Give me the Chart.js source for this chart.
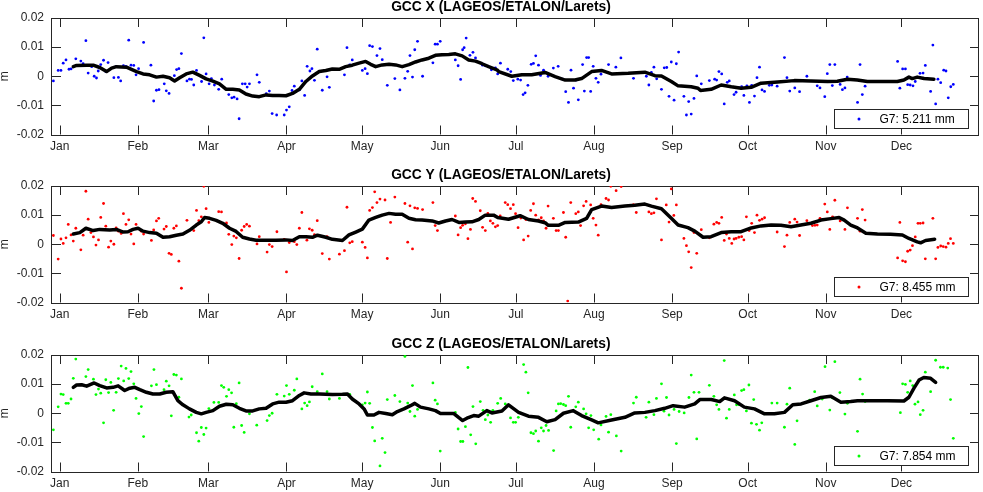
<!DOCTYPE html>
<html lang="en">
<head>
  <meta charset="UTF-8">
  <title>GCC LAGEOS/ETALON/Larets</title>
  <script src="https://cdn.jsdelivr.net/npm/chart.js"></script>
  <style>
    body {
      margin: 0;
      background: #fff;
      width: 983px;
      height: 492px;
      overflow: hidden;
      position: relative;
    }

    canvas {
      position: absolute;
      left: 0;
    }
  </style>
</head>
<body>

  <canvas id="gccX" width="983" height="160" style="top:0px"></canvas>
  <canvas id="gccY" width="983" height="160" style="top:168px"></canvas>
  <canvas id="gccZ" width="983" height="160" style="top:337px"></canvas>

  <script>
    // x axis: day of year (Jan 1 = 0)
    const monthDays = [0, 31, 59, 90, 120, 151, 181, 212, 243, 273, 304, 334];
    const monthNames = ['Jan', 'Feb', 'Mar', 'Apr', 'May', 'Jun', 'Jul', 'Aug', 'Sep', 'Oct', 'Nov', 'Dec'];
    const dayMin = -3.05;
    const dayMax = 364.8;
    const yTicks = [-0.02, -0.01, 0, 0.01, 0.02];

    // [day, mm]
    const gccXDots = [[-2.5,-1.6],[-0.6,2.0],[0.5,2.0],[1.4,4.5],[2.5,5.6],[3.7,2.4],[4.5,2.5],[6.4,6.0],[8.4,5.2],[9.3,4.3],[10.4,12.2],[11.3,1.1],[12.7,3.3],[13.7,0.0],[14.6,-0.6],[15.3,1.8],[16.3,4.0],[17.4,5.5],[18.3,1.6],[19.2,4.7],[21.5,-0.5],[22.3,3.3],[23.3,-0.4],[24.2,-1.6],[25.3,3.6],[26.3,3.4],[27.4,12.4],[28.3,3.8],[29.4,3.7],[30.3,0.5],[31.3,2.6],[33.3,11.6],[36.2,3.8],[37.3,-8.5],[38.4,-4.8],[39.4,-4.6],[41.5,-2.6],[42.3,-5.0],[43.4,-5.9],[45.5,0.2],[46.4,2.3],[47.3,2.6],[48.3,7.8],[50.5,-1.6],[51.5,-1.0],[52.3,-1.1],[53.2,-3.0],[54.3,2.0],[56.3,-1.8],[57.2,13.2],[58.1,0.8],[59.3,-2.6],[60.2,-0.8],[61.4,-3.0],[63.1,-4.5],[64.3,-1.0],[67.1,-6.3],[68.3,-7.4],[69.2,-7.2],[70.4,-7.8],[71.2,-14.6],[72.5,-2.6],[73.6,-2.6],[74.4,-3.7],[75.3,-2.6],[78.3,0.5],[79.2,-2.1],[82.0,-6.0],[83.2,-5.1],[84.3,-12.8],[86.1,-13.3],[89.1,-13.3],[90.0,-11.6],[91.1,-10.5],[92.2,-4.9],[93.1,-3.4],[95.1,-4.7],[96.1,-1.6],[97.2,-6.6],[98.2,3.4],[99.3,1.8],[100.1,2.6],[101.1,-1.4],[102.2,9.3],[104.2,-4.8],[106.1,-0.2],[107.0,-3.8],[113.0,0.5],[114.0,9.8],[115.1,3.9],[116.1,5.6],[120.1,2.0],[121.2,2.6],[122.1,0.9],[123.0,10.5],[124.1,10.2],[125.9,7.1],[127.1,9.5],[128.0,5.7],[130.0,-3.1],[133.0,-0.8],[135.0,-4.7],[137.0,-0.7],[138.1,1.7],[139.0,7.1],[140.0,-0.3],[140.9,9.1],[142.0,12.0],[144.0,0.0],[148.1,4.6],[149.0,11.0],[149.9,11.0],[151.0,12.0],[157.0,5.6],[158.1,3.6],[159.1,-1.1],[159.9,9.1],[160.5,9.8],[161.3,13.1],[162.8,7.2],[164.0,8.2],[165.0,6.3],[167.8,3.8],[168.9,3.6],[170.2,3.3],[171.3,2.2],[172.9,2.9],[173.8,0.8],[174.9,4.5],[177.8,2.4],[179.0,1.6],[180.0,-1.5],[181.8,-1.0],[182.9,-1.3],[183.9,-6.3],[184.7,-5.7],[185.8,-3.1],[187.1,4.1],[188.0,4.4],[188.9,7.0],[190.0,3.8],[190.8,0.3],[192.0,2.1],[193.8,0.0],[195.9,2.8],[197.8,3.4],[199.6,-1.0],[200.8,-5.3],[201.9,-9.0],[202.9,2.1],[203.9,-4.1],[204.9,-1.3],[205.8,-8.1],[207.5,4.0],[208.2,-5.1],[209.1,6.4],[209.9,6.4],[210.7,-5.2],[211.7,3.4],[212.8,-0.7],[213.7,-2.1],[214.8,0.7],[217.8,4.0],[220.7,3.1],[222.7,6.3],[227.7,-0.7],[232.8,0.0],[233.8,-3.0],[234.8,1.3],[235.8,3.1],[236.9,-0.9],[238.8,-4.5],[239.9,2.9],[240.9,3.0],[241.8,-6.9],[242.7,4.9],[243.8,-8.2],[244.7,4.3],[245.6,8.3],[247.7,-6.9],[248.7,-13.3],[249.6,-8.7],[250.6,-13.0],[251.7,-7.6],[252.8,0.1],[254.6,-2.6],[257.8,-1.5],[259.9,-1.0],[260.7,-1.3],[261.6,1.6],[262.7,0.8],[263.7,-9.5],[264.9,-2.1],[265.7,-1.6],[267.6,-6.3],[268.4,-5.5],[269.5,-3.9],[270.6,-3.6],[271.5,-6.6],[272.7,-3.3],[273.7,-9.0],[274.6,-3.1],[275.7,-6.8],[276.7,-0.5],[277.7,3.1],[278.7,-4.7],[279.7,-5.2],[281.6,-3.1],[282.6,-3.0],[284.7,-3.4],[287.6,6.4],[288.6,-0.5],[289.7,-5.1],[291.7,-4.0],[292.6,-1.5],[293.6,-5.3],[296.5,0.0],[300.6,-3.3],[301.7,-4.0],[303.6,-7.0],[304.6,0.9],[305.6,4.0],[306.6,-3.2],[307.6,4.0],[309.7,-2.8],[310.6,-4.6],[311.6,-4.0],[312.5,-0.3],[316.6,-9.0],[317.6,4.0],[318.5,-6.3],[319.6,-3.4],[332.5,5.1],[333.4,-4.1],[334.5,2.5],[335.6,2.5],[336.5,-2.9],[337.5,-3.0],[338.6,-3.3],[339.5,-1.8],[341.4,1.0],[342.6,1.1],[343.5,3.7],[345.6,-5.2],[346.5,10.7],[347.6,-9.5],[348.5,-1.0],[349.6,-2.2],[350.8,2.1],[351.7,1.8],[352.6,-7.4],[353.6,-3.6],[354.6,-2.8]];

    const gccXMean = [[5.4,3.3],[6.7,3.7],[10.7,3.8],[13.3,3.8],[15.9,3.0],[18.6,1.6],[20.6,2.8],[22.5,3.3],[26.5,3.1],[30.5,1.6],[33.1,0.8],[35.7,0.5],[38.4,-0.3],[41.0,0.0],[43.6,-0.5],[45.6,-1.6],[47.6,-0.5],[50.2,0.8],[52.8,1.4],[55.5,0.3],[58.1,-0.9],[60.8,-1.7],[63.4,-2.6],[66.1,-4.5],[68.7,-4.5],[71.3,-4.7],[73.9,-6.1],[76.6,-6.8],[79.2,-7.0],[81.9,-6.4],[84.5,-6.6],[87.1,-6.6],[89.8,-6.7],[92.4,-5.9],[95.1,-4.5],[97.7,-1.8],[100.3,0.1],[103.0,1.6],[105.6,2.0],[108.2,2.5],[110.9,2.4],[113.5,3.3],[116.1,3.8],[118.8,4.5],[121.4,5.1],[123.4,4.1],[125.4,3.3],[128.0,3.9],[130.7,4.1],[133.3,3.9],[135.9,3.3],[138.6,4.0],[141.2,4.9],[143.8,5.6],[146.5,6.2],[149.1,7.2],[151.7,7.4],[154.4,7.5],[157.0,7.7],[159.7,7.0],[162.3,5.6],[165.0,5.2],[167.6,4.3],[170.2,3.3],[173.5,2.2],[174.2,1.6],[179.4,0.0],[183.4,0.5],[187.3,0.5],[192.6,1.3],[196.6,-0.1],[200.6,-1.3],[204.5,-1.3],[207.1,-0.8],[211.1,1.6],[215.0,2.0],[219.0,0.8],[225.6,1.0],[232.2,1.4],[236.2,0.2],[238.8,0.1],[242.7,-1.8],[245.4,-3.3],[250.6,-3.6],[253.3,-4.1],[254.3,-4.9],[258.5,-4.5],[262.5,-3.0],[266.5,-3.6],[270.4,-4.1],[274.4,-3.8],[278.3,-2.4],[284.9,-2.0],[291.5,-1.5],[298.1,-1.6],[304.7,-1.8],[308.6,-1.7],[312.6,-1.0],[316.5,-1.3],[320.5,-1.8],[332.4,-1.8],[335.0,-1.3],[337.0,-0.3],[338.3,-0.8],[340.3,-0.3],[343.0,-0.8],[346.9,-1.0]];

    const gccYDots = [[-2.5,3.0],[-0.6,-5.1],[0.5,1.8],[1.4,0.3],[2.5,2.2],[3.4,6.8],[4.5,3.2],[5.4,1.1],[6.4,5.5],[8.4,-1.9],[9.3,3.1],[10.4,18.2],[11.3,8.6],[12.4,4.0],[13.4,2.5],[14.4,-0.3],[15.4,1.5],[16.3,9.2],[17.4,14.0],[18.3,6.2],[19.4,-1.0],[20.3,1.1],[21.5,0.0],[22.4,5.6],[23.3,4.5],[24.4,3.7],[25.3,10.5],[26.3,6.8],[27.4,8.4],[28.3,3.5],[29.4,0.1],[30.3,6.8],[32.4,4.5],[33.3,3.5],[36.4,1.3],[37.3,4.9],[38.4,8.0],[39.3,8.9],[41.4,5.2],[42.3,6.1],[43.4,-3.1],[44.3,-3.5],[45.3,5.5],[46.3,6.3],[47.3,-5.8],[48.3,-15.1],[50.5,8.2],[53.2,4.7],[54.3,11.6],[55.2,8.1],[56.2,9.4],[57.2,19.9],[58.1,12.2],[59.2,7.5],[63.1,11.2],[64.2,11.1],[66.2,7.3],[67.1,3.4],[68.3,-0.1],[69.1,2.8],[70.1,2.2],[71.2,-4.9],[72.2,4.8],[73.2,6.1],[74.2,6.8],[75.3,6.2],[78.3,0.1],[79.2,2.6],[82.3,-2.7],[83.2,-0.1],[84.3,-0.8],[86.2,4.3],[89.1,1.7],[90.0,-9.5],[91.1,0.6],[93.1,0.9],[94.1,-0.1],[95.1,5.5],[96.1,10.9],[97.2,2.6],[98.1,1.4],[99.1,5.3],[100.2,4.8],[101.1,3.3],[102.2,8.1],[104.2,-3.2],[106.1,2.6],[107.0,-5.1],[111.0,-3.4],[113.0,-2.2],[114.0,12.7],[115.1,0.5],[116.1,0.9],[120.1,0.7],[121.2,-1.1],[122.1,-4.7],[123.0,11.6],[124.1,12.6],[125.0,18.0],[125.9,14.3],[127.1,15.5],[129.1,15.2],[130.0,-4.9],[131.3,7.5],[133.0,16.2],[137.0,14.0],[138.1,0.7],[139.0,13.2],[140.0,-1.6],[140.9,12.5],[142.0,12.3],[144.0,11.9],[148.1,14.3],[149.0,6.4],[149.9,4.7],[157.0,9.7],[158.1,3.2],[159.1,5.7],[159.9,6.5],[161.0,7.0],[162.0,1.9],[163.0,5.1],[163.9,15.7],[165.0,14.7],[166.9,11.5],[167.8,5.8],[168.9,4.7],[169.9,10.6],[170.9,8.0],[171.9,7.2],[172.9,6.0],[173.8,6.4],[174.8,9.7],[176.8,14.3],[177.8,13.6],[178.9,12.2],[180.0,13.6],[180.9,10.5],[181.9,5.7],[183.0,9.0],[184.1,1.5],[185.0,8.5],[185.9,2.8],[186.9,11.6],[188.0,13.9],[188.9,10.0],[190.0,8.4],[191.1,9.1],[192.0,8.0],[193.0,5.5],[193.8,13.1],[195.9,8.9],[197.0,4.7],[197.9,4.7],[199.9,10.9],[200.8,2.4],[201.6,-19.5],[202.8,14.3],[204.8,10.5],[205.8,11.1],[206.7,6.4],[207.9,13.2],[208.9,14.7],[210.7,13.5],[211.7,8.9],[212.8,6.6],[213.7,3.1],[214.8,13.6],[216.8,15.7],[217.8,15.2],[218.7,19.9],[220.8,18.4],[222.8,19.8],[227.7,13.6],[228.8,10.9],[233.8,11.1],[234.8,10.5],[235.8,10.8],[236.8,15.6],[238.8,1.5],[240.7,13.5],[241.8,7.6],[242.7,19.0],[243.7,9.9],[244.7,13.5],[247.7,2.0],[248.7,-0.5],[249.6,-2.6],[250.6,-8.0],[251.7,4.0],[252.8,-3.1],[254.6,5.0],[257.8,2.2],[259.6,6.9],[260.7,7.5],[261.6,7.2],[262.7,9.2],[263.7,1.3],[264.6,3.5],[265.7,2.0],[266.7,0.3],[267.6,1.8],[268.4,2.0],[269.5,2.4],[270.6,2.6],[271.5,1.5],[272.5,9.4],[273.6,4.7],[274.6,7.2],[275.7,4.0],[276.7,10.0],[277.7,8.2],[278.7,8.6],[279.7,9.1],[281.6,6.4],[284.7,4.2],[287.6,-0.8],[288.6,3.1],[289.7,7.5],[291.7,8.6],[292.6,7.6],[293.6,3.0],[296.5,8.1],[298.7,6.4],[299.7,6.5],[300.6,6.6],[301.7,8.9],[303.6,13.8],[304.6,11.1],[305.6,5.1],[306.7,9.4],[307.6,15.1],[309.7,8.0],[311.6,5.1],[312.6,12.5],[316.6,8.9],[317.6,4.5],[318.5,11.9],[319.6,8.3],[332.5,-4.7],[333.4,7.5],[334.5,-5.7],[335.6,-6.0],[336.5,-2.4],[337.5,-2.0],[338.4,-0.5],[339.5,2.5],[340.6,7.2],[341.5,7.2],[342.6,7.3],[343.5,-5.0],[346.5,8.9],[347.6,-5.0],[348.5,-1.1],[349.6,-0.6],[350.6,-0.8],[351.7,-1.0],[352.6,0.3],[353.5,1.9],[354.6,0.3]];

    const gccYMean = [[5.4,3.5],[8.0,4.0],[10.4,5.5],[13.3,4.7],[15.9,5.1],[19.9,4.9],[22.5,5.1],[25.2,4.2],[27.1,4.3],[29.1,5.1],[31.1,5.5],[33.1,4.5],[35.7,4.0],[38.4,3.8],[41.0,2.4],[43.6,2.6],[46.3,3.1],[48.9,3.5],[51.5,4.8],[54.2,6.6],[56.2,7.7],[57.5,9.2],[59.5,8.9],[62.1,8.2],[64.7,7.2],[67.4,5.5],[70.0,4.4],[72.6,2.4],[75.3,1.8],[77.9,1.4],[81.9,1.4],[85.8,1.4],[89.8,1.5],[92.4,1.3],[95.1,2.6],[97.7,2.6],[100.3,2.4],[102.3,3.1],[105.6,2.4],[108.2,1.7],[112.2,1.3],[114.8,3.2],[117.5,4.2],[120.1,5.2],[122.7,8.3],[125.4,9.2],[128.0,10.0],[130.7,10.6],[133.3,10.3],[135.9,10.3],[138.6,8.9],[141.2,8.4],[143.8,8.3],[147.8,8.0],[150.4,7.3],[153.1,8.0],[155.7,8.5],[158.4,7.5],[161.0,7.6],[163.6,7.7],[166.3,8.5],[168.9,10.0],[172.2,10.0],[173.8,9.2],[178.1,8.6],[182.7,9.8],[186.0,8.5],[190.0,8.0],[192.6,7.4],[193.9,6.5],[197.9,6.5],[200.6,7.5],[205.8,7.6],[209.1,8.9],[211.1,11.9],[215.0,13.1],[219.0,12.6],[224.3,13.1],[228.2,13.4],[232.2,13.8],[234.8,13.1],[238.8,12.2],[242.7,8.9],[245.4,6.6],[249.3,5.7],[252.0,4.5],[255.3,2.4],[258.5,2.6],[262.5,4.0],[266.5,4.3],[270.4,4.3],[274.4,5.6],[278.3,6.3],[282.3,6.6],[286.2,6.5],[290.2,6.0],[294.1,6.6],[298.1,7.2],[302.1,8.3],[306.0,8.8],[309.3,9.2],[311.3,8.3],[313.9,6.6],[316.6,5.6],[319.9,3.8],[324.5,3.5],[329.7,3.4],[334.4,3.2],[337.0,2.0],[340.3,0.8],[341.6,0.5],[343.6,1.3],[347.2,1.7]];

    const gccZDots = [[-2.5,-5.7],[-0.6,2.2],[0.5,6.6],[1.4,6.4],[2.5,3.4],[3.4,3.4],[4.5,4.9],[5.4,12.0],[6.4,18.6],[10.4,12.6],[11.3,15.0],[13.4,11.7],[14.4,6.4],[15.4,8.3],[16.3,6.9],[17.4,-3.3],[18.3,11.5],[19.4,7.1],[20.3,10.6],[21.4,1.0],[22.4,7.2],[23.3,11.9],[24.4,16.2],[25.4,11.1],[26.3,15.4],[27.4,11.9],[28.3,14.3],[29.4,10.1],[30.3,5.1],[31.4,-0.1],[32.4,2.3],[33.3,-8.0],[36.4,9.4],[37.4,15.0],[38.4,9.8],[41.4,8.1],[42.3,11.0],[43.4,9.4],[44.3,-0.9],[45.3,13.3],[46.3,13.1],[47.3,5.5],[48.3,11.8],[51.3,-1.3],[52.2,-0.6],[54.3,-6.7],[55.2,-9.6],[56.2,-4.9],[57.2,-7.3],[58.1,-5.1],[59.2,1.6],[61.2,3.7],[63.1,3.7],[64.2,9.5],[65.1,8.9],[66.2,5.8],[67.1,8.1],[68.2,7.0],[69.1,-4.8],[70.1,3.3],[71.2,10.4],[72.2,-4.2],[73.2,-6.6],[75.3,-0.2],[78.2,-4.1],[82.3,-2.5],[83.2,-0.8],[84.3,0.0],[86.2,6.5],[89.1,5.9],[90.0,9.5],[91.1,6.5],[93.1,7.9],[94.1,11.8],[96.1,1.5],[97.2,3.5],[98.2,2.6],[99.1,3.9],[100.2,9.1],[102.2,7.4],[104.2,13.5],[106.1,7.4],[107.0,4.9],[111.0,5.1],[115.1,6.5],[120.1,2.9],[121.2,3.5],[122.1,7.3],[123.0,3.4],[124.1,-4.9],[125.0,-9.5],[127.1,-18.1],[128.0,-8.6],[129.1,-13.5],[130.0,4.7],[133.0,6.1],[135.0,4.0],[137.0,19.5],[138.1,3.5],[139.0,0.6],[140.0,9.5],[140.9,-1.0],[142.0,1.3],[148.1,10.4],[149.0,4.5],[149.9,3.2],[151.0,-13.0],[157.0,0.3],[158.1,-5.4],[159.1,-9.7],[160.0,-9.7],[161.0,-4.6],[162.0,15.7],[163.1,-7.4],[164.0,2.3],[165.1,-10.5],[166.9,4.0],[168.0,1.0],[168.9,-2.2],[169.9,-0.6],[171.0,-3.1],[171.9,1.0],[173.8,3.4],[175.0,5.1],[176.8,3.2],[178.9,-1.6],[180.0,-3.1],[180.9,-3.1],[182.0,-1.4],[183.0,0.0],[184.1,16.7],[185.0,14.1],[185.9,7.0],[187.0,-6.7],[188.0,-7.0],[188.9,-6.1],[190.0,-9.6],[191.1,-5.0],[192.0,-6.1],[193.0,-4.2],[194.0,-5.9],[196.0,-12.8],[197.0,0.8],[197.9,3.2],[198.8,3.3],[199.9,3.0],[200.8,2.6],[201.9,5.8],[202.8,-4.8],[203.8,0.9],[204.8,2.2],[205.8,3.8],[207.9,1.5],[208.9,-0.2],[209.9,-5.0],[210.8,-0.8],[211.9,-5.7],[213.9,-8.9],[214.8,-4.0],[216.8,-1.1],[217.8,-6.5],[218.7,-0.5],[220.9,-7.8],[222.8,-13.0],[227.7,3.5],[228.8,5.5],[232.7,-1.4],[233.8,3.8],[235.8,-0.5],[236.8,5.1],[238.8,10.1],[239.8,0.7],[240.8,5.4],[241.8,-0.6],[243.8,1.3],[244.7,-10.4],[245.8,0.6],[247.8,0.1],[249.7,5.4],[250.6,13.1],[251.7,7.2],[252.8,-8.8],[253.7,7.2],[257.8,9.6],[259.6,5.8],[260.7,2.9],[261.6,1.3],[263.7,18.1],[264.6,-1.7],[265.7,1.3],[267.7,6.3],[268.6,2.9],[269.5,3.0],[270.6,7.8],[271.5,8.1],[272.5,0.8],[273.5,9.7],[274.5,-3.4],[275.4,4.7],[276.5,-3.8],[277.7,-5.8],[278.6,-3.3],[279.7,-0.2],[282.6,3.5],[284.7,3.5],[287.6,-4.8],[288.6,3.1],[289.7,8.6],[291.7,-10.7],[292.6,-2.6],[297.6,4.5],[299.6,7.4],[300.6,2.5],[302.6,4.9],[303.7,16.0],[305.6,1.1],[306.6,5.3],[307.6,17.7],[309.6,7.1],[311.6,-0.3],[312.6,3.4],[316.6,-6.2],[317.6,11.7],[318.6,6.6],[319.6,4.0],[333.6,0.2],[334.5,10.1],[335.6,9.9],[336.5,7.2],[337.5,11.1],[338.5,9.5],[339.4,3.1],[340.6,3.9],[341.5,-0.5],[342.6,1.0],[343.5,14.1],[345.6,7.4],[347.6,18.2],[349.5,15.8],[350.6,15.8],[352.4,15.5],[353.5,4.7],[354.6,-8.6]];

    const gccZMean = [[5.4,8.9],[6.7,9.7],[8.7,9.8],[10.7,9.3],[13.7,10.4],[15.9,9.5],[18.6,8.7],[21.2,8.9],[23.2,9.4],[25.8,7.8],[27.8,8.6],[29.8,8.9],[31.8,8.1],[34.4,7.2],[37.0,6.6],[39.7,6.6],[42.3,7.2],[44.9,7.4],[46.9,4.3],[48.9,2.9],[51.5,1.5],[54.2,0.3],[56.2,-0.2],[58.1,0.3],[60.8,0.9],[63.4,2.4],[66.1,3.1],[68.7,2.9],[71.3,1.7],[73.9,0.8],[76.6,0.8],[79.2,1.5],[81.9,1.7],[84.5,3.2],[87.1,3.8],[89.8,3.8],[92.4,4.3],[95.1,6.1],[97.0,7.0],[99.7,6.6],[103.0,6.6],[108.2,6.4],[112.2,6.5],[114.2,6.6],[116.1,4.9],[118.8,3.2],[120.8,1.5],[122.1,-0.6],[124.7,-0.6],[126.7,0.3],[129.4,-0.1],[132.0,-0.5],[134.0,0.6],[136.6,1.5],[139.2,2.6],[140.9,3.4],[143.2,2.1],[146.5,1.5],[149.1,0.9],[151.1,-0.1],[156.4,-0.1],[158.4,-1.5],[159.9,-2.5],[161.6,-1.7],[164.3,-0.8],[166.3,-1.0],[169.5,0.9],[171.5,0.1],[175.5,0.8],[178.1,2.9],[182.1,0.3],[186.0,-1.0],[190.0,-1.4],[193.3,-2.9],[196.6,-2.2],[199.9,0.0],[203.8,0.9],[207.1,-0.8],[211.1,-2.3],[213.7,-3.3],[219.0,-2.3],[224.3,-1.4],[228.2,0.1],[232.2,0.3],[236.2,0.9],[240.1,1.7],[243.4,2.6],[248.0,2.1],[252.0,3.2],[254.0,4.7],[258.6,4.7],[261.9,4.0],[263.8,5.3],[267.8,4.3],[271.7,2.1],[275.7,1.5],[279.7,-0.2],[283.6,-0.2],[287.6,0.3],[290.9,2.9],[294.2,3.2],[298.1,4.3],[302.1,5.4],[306.0,5.8],[310.0,3.8],[313.9,4.0],[316.6,4.3],[320.5,4.3],[328.4,4.3],[335.0,4.2],[337.0,5.5],[339.0,8.6],[341.0,11.4],[342.9,12.3],[345.6,12.0],[347.6,10.6]];

    const panels = [
      { id: 'gccX', title: 'GCC X (LAGEOS/ETALON/Larets)', color: '#0000ff', dots: gccXDots, mean: gccXMean, legend: 'G7: 5.211 mm' },
      { id: 'gccY', title: 'GCC Y (LAGEOS/ETALON/Larets)', color: '#ff0000', dots: gccYDots, mean: gccYMean, legend: 'G7: 8.455 mm' },
      { id: 'gccZ', title: 'GCC Z (LAGEOS/ETALON/Larets)', color: '#00ff00', dots: gccZDots, mean: gccZMean, legend: 'G7: 7.854 mm' }
    ];

    const axisColor = '#262626';
    const fontFamily = "'Liberation Sans', Arial, Helvetica, sans-serif";
    Chart.defaults.font.family = fontFamily;
    Chart.defaults.font.size = 12;
    Chart.defaults.color = axisColor;

    function toPoints(rows) {
      return rows.map(([day, mm]) => ({ x: day, y: mm / 1000 }));
    }

    // box, inward ticks, title and legend in the matlab look
    const frame = {
      id: 'frame',
      beforeDatasetsDraw(chart, args, opts) {
        const { ctx, chartArea: a, scales: { x, y } } = chart;
        const tick = 9;
        ctx.save();
        ctx.strokeStyle = axisColor;
        ctx.lineWidth = 1;
        ctx.beginPath();
        monthDays.forEach(d => {
          const px = Math.round(x.getPixelForValue(d)) + 0.5;
          ctx.moveTo(px, a.bottom); ctx.lineTo(px, a.bottom - tick);
          ctx.moveTo(px, a.top); ctx.lineTo(px, a.top + tick);
        });
        yTicks.forEach(v => {
          const py = Math.round(y.getPixelForValue(v)) + 0.5;
          ctx.moveTo(a.left, py); ctx.lineTo(a.left + tick, py);
          ctx.moveTo(a.right, py); ctx.lineTo(a.right - tick, py);
        });
        ctx.stroke();
        ctx.strokeRect(Math.round(a.left) - 0.5, Math.round(a.top) + 0.5,
          Math.round(a.right - a.left), Math.round(a.bottom - a.top));
        ctx.restore();
      },
      afterDraw(chart, args, opts) {
        const { ctx, chartArea: a } = chart;
        ctx.save();
        ctx.fillStyle = '#000';
        ctx.font = 'bold 13.8px ' + fontFamily;
        ctx.textAlign = 'center';
        ctx.textBaseline = 'middle';
        ctx.fillText(opts.title, 501, a.top - 11);

        const bw = 134, bh = 19;
        const bx = Math.round(a.right - 11 - bw) + 0.5;
        const by = Math.round(a.bottom - 7 - bh) + 0.5;
        ctx.fillStyle = '#fff';
        ctx.fillRect(bx, by, bw, bh);
        ctx.strokeStyle = axisColor;
        ctx.strokeRect(bx, by, bw, bh);
        ctx.fillStyle = opts.color;
        ctx.beginPath();
        ctx.arc(bx + 24.5, by + bh / 2, 1.5, 0, Math.PI * 2);
        ctx.fill();
        ctx.fillStyle = '#000';
        ctx.font = '12px ' + fontFamily;
        ctx.textAlign = 'left';
        ctx.fillText(opts.legend, bx + 45, by + bh / 2 + 0.5);
        ctx.restore();
      }
    };

    panels.forEach(p => {
      new Chart(document.getElementById(p.id), {
        type: 'scatter',
        data: {
          datasets: [
            {
              data: toPoints(p.dots),
              order: 2,
              showLine: false,
              pointRadius: 1.4,
              pointBorderWidth: 0,
              pointBackgroundColor: p.color
            },
            {
              type: 'line',
              data: toPoints(p.mean),
              order: 1,
              borderColor: '#000',
              borderWidth: 3.5,
              borderJoinStyle: 'round',
              borderCapStyle: 'round',
              pointRadius: 0,
              tension: 0
            }
          ]
        },
        options: {
          responsive: false,
          devicePixelRatio: 1,
          animation: false,
          events: [],
          layout: { padding: { top: 18, right: 1, left: 0, bottom: 0 } },
          scales: {
            x: {
              type: 'linear',
              min: dayMin,
              max: dayMax,
              grid: { display: false, drawTicks: false },
              border: { display: false },
              afterBuildTicks: s => { s.ticks = monthDays.map(v => ({ value: v })); },
              afterFit: s => { s.height = 25.5; },
              ticks: {
                padding: 5,
                autoSkip: false,
                maxRotation: 0,
                callback: v => monthNames[monthDays.indexOf(v)]
              }
            },
            y: {
              min: -0.02,
              max: 0.02,
              grid: { display: false, drawTicks: false },
              border: { display: false },
              afterBuildTicks: s => { s.ticks = yTicks.map(v => ({ value: v })); },
              afterFit: s => { s.width = 52; },
              ticks: {
                padding: 8,
                callback: v => Math.abs(v) < 1e-9 ? '0' : v.toFixed(2)
              },
              title: {
                display: true,
                text: 'm',
                padding: 0,
                font: { size: 12, lineHeight: 0.85 }
              }
            }
          },
          plugins: {
            legend: { display: false },
            tooltip: { enabled: false },
            frame: { title: p.title, color: p.color, legend: p.legend }
          }
        },
        plugins: [frame]
      });
    });
  </script>
</body>
</html>
